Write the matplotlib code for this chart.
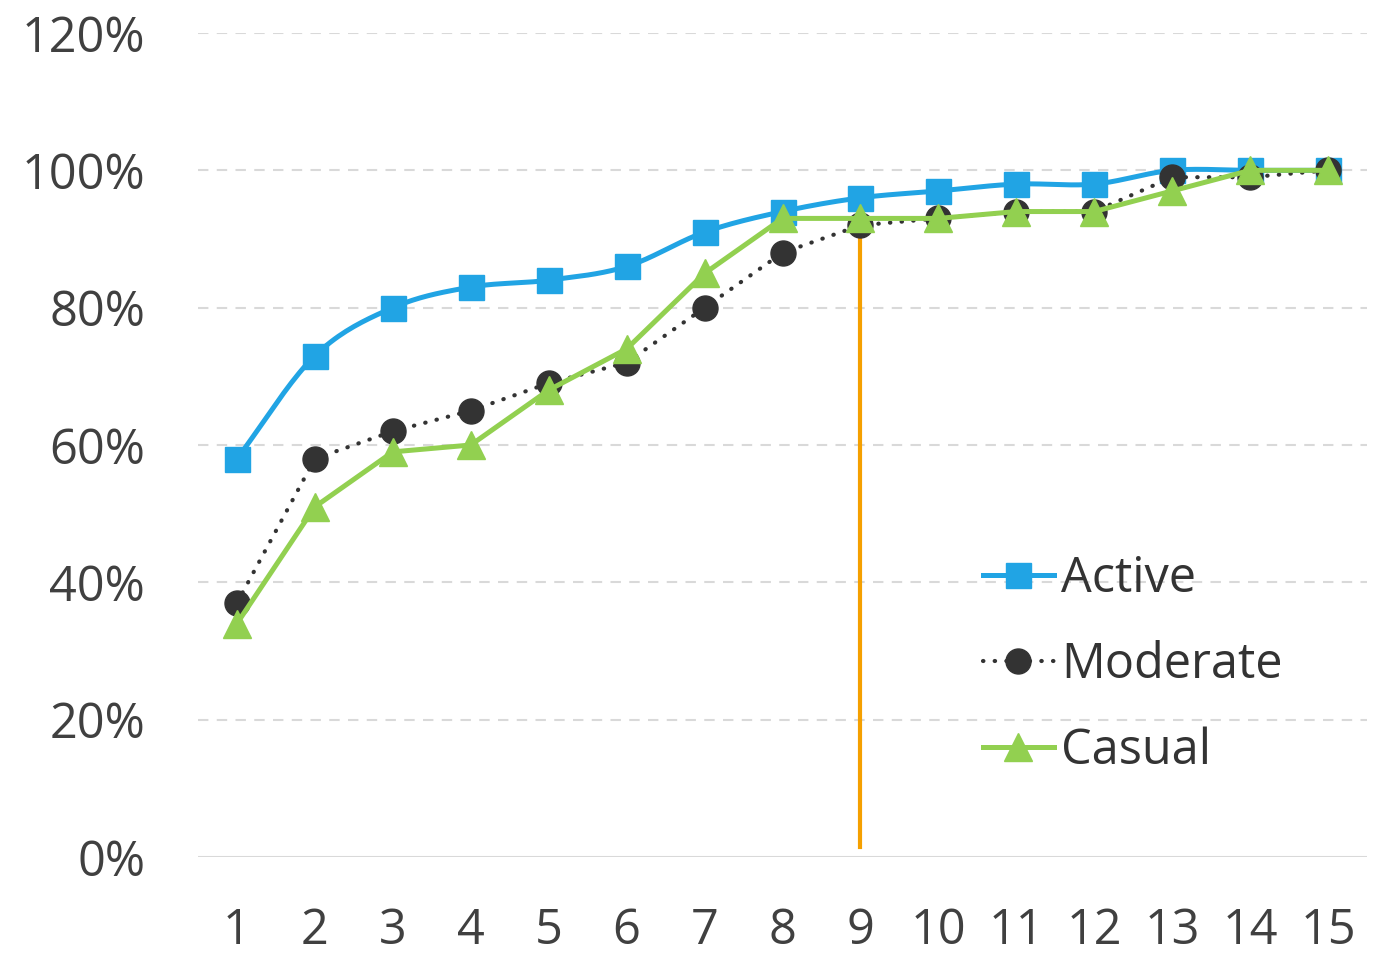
import matplotlib
matplotlib.use("Agg")
import matplotlib.pyplot as plt
import numpy as np
from matplotlib.ticker import PercentFormatter

plt.rcParams['font.family'] = ['Open Sans', 'DejaVu Sans']

# share of users (%) by step
steps = list(range(1, 16))
active = [58, 73, 80, 83, 84, 86, 91, 94, 96, 97, 98, 98, 100, 100, 100]
moderate = [37, 58, 62, 65, 69, 72, 80, 88, 92, 93, 94, 94, 99, 99, 100]
casual = [34, 51, 59, 60, 68, 74, 85, 93, 93, 93, 94, 94, 97, 100, 100]
marker_step = 9
yticks = [0, 20, 40, 60, 80, 100, 120]


def smooth(x, y, n=20):
    # Catmull-Rom curve through the points, like a smoothed office line
    x = np.asarray(x, float)
    y = np.asarray(y, float)
    px = np.concatenate([[2 * x[0] - x[1]], x, [2 * x[-1] - x[-2]]])
    py = np.concatenate([[2 * y[0] - y[1]], y, [2 * y[-1] - y[-2]]])
    xs, ys = [], []
    t = np.linspace(0, 1, n, endpoint=False)
    for i in range(1, len(px) - 2):
        for p, out in ((px, xs), (py, ys)):
            p0, p1, p2, p3 = p[i - 1], p[i], p[i + 1], p[i + 2]
            out.extend(0.5 * (2 * p1 + (-p0 + p2) * t
                              + (2 * p0 - 5 * p1 + 4 * p2 - p3) * t ** 2
                              + (-p0 + 3 * p1 - 3 * p2 + p3) * t ** 3))
    xs.append(x[-1])
    ys.append(y[-1])
    return np.array(xs), np.array(ys)


fig = plt.figure(figsize=(13.76, 9.57), dpi=100)
ax = fig.add_axes([0.1439, 0.1045, 0.8496, 0.861])

blue = '#21a4e4'
dark = '#333333'
green = '#92d050'

# vertical marker line at step 9
ax.plot([marker_step, marker_step], [1.5, moderate[marker_step - 1]],
        color='#f5a000', lw=3, zorder=2)

sx, sy = smooth(steps, active)
ax.plot(sx, sy, color=blue, lw=3.6, zorder=3, solid_capstyle='round')
ax.plot(steps, active, ls='none', marker='s', ms=18, color=blue, zorder=4)
ax.plot([], [], color=blue, lw=3.6, marker='s', ms=18, label='Active')

ax.plot(steps, moderate, color=dark, lw=3.0, ls=(0, (0.1, 2.7)),
        dash_capstyle='round', marker='o', ms=18, zorder=5, label='Moderate')

ax.plot(steps, casual, color=green, lw=3.6, marker='^', ms=20, zorder=6,
        label='Casual')

ax.set_xlim(0.5, 15.5)
ax.set_ylim(0, 120)
ax.set_xticks(steps)
ax.set_yticks(yticks)
ax.yaxis.set_major_formatter(PercentFormatter(decimals=0))

for v in yticks[1:]:
    ax.axhline(v, color='#d9d9d9', lw=1.5, ls=(0, (5, 4)), zorder=1)
ax.axhline(0, color='#d9d9d9', lw=1.5, zorder=1)

for s in ax.spines.values():
    s.set_visible(False)
ax.tick_params(length=0, labelsize=35, colors='#404040')
ax.tick_params(axis='y', pad=38)
ax.tick_params(axis='x', pad=36)

leg = ax.legend(loc='center left', bbox_to_anchor=(0.655, 0.233), frameon=False,
                fontsize=35, handlelength=1.45, handletextpad=0.15,
                labelspacing=0.75, borderaxespad=0)
for t in leg.get_texts():
    t.set_color(dark)

fig.savefig('out.png', dpi=100)
